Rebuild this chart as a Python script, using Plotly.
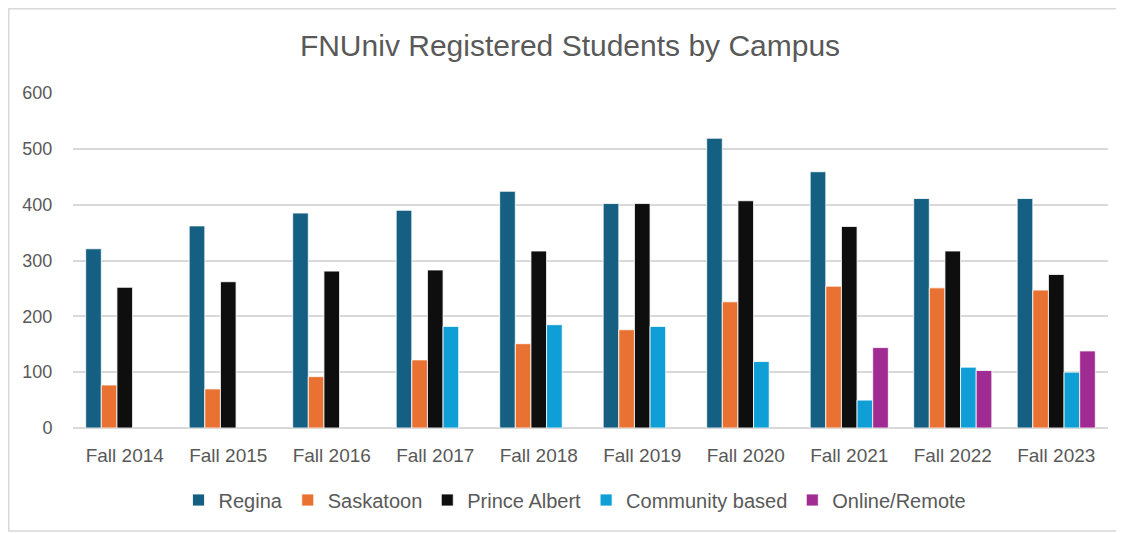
import plotly.graph_objects as go

categories = ["Fall 2014", "Fall 2015", "Fall 2016", "Fall 2017", "Fall 2018",
              "Fall 2019", "Fall 2020", "Fall 2021", "Fall 2022", "Fall 2023"]
regina = [321, 362, 385, 390, 424, 402, 519, 459, 411, 411]
saskatoon = [77, 70, 92, 122, 151, 176, 226, 254, 251, 247]
prince_albert = [252, 262, 281, 283, 317, 402, 407, 361, 317, 275]
community = [None, None, None, 182, 185, 182, 119, 50, 109, 100]
online = [None, None, None, None, None, None, None, 144, 103, 138]
y_ticks = [0, 100, 200, 300, 400, 500, 600]

series = [
    ("Regina", regina, "#156082"),
    ("Saskatoon", saskatoon, "#E97132"),
    ("Prince Albert", prince_albert, "#0E0E0E"),
    ("Community based", community, "#0F9ED5"),
    ("Online/Remote", online, "#A02B93"),
]

fig = go.Figure()
for name, vals, color in series:
    fig.add_trace(go.Bar(
        name=name, x=categories, y=vals,
        marker=dict(color=color, line=dict(color="rgba(255,255,255,0.8)", width=1)),
    ))

FONT = "Liberation Sans, Arial, sans-serif"
GREY = "#595959"

# page has an 8px body margin; figure coords = page coords - 8
W, H = 1116, 525
L, R, T, B = 65, 1100, 85, 420  # plot area in figure coords
PW, PH = R - L, B - T

fig.update_layout(
    width=W, height=H,
    margin=dict(l=L, r=W - R, t=T, b=H - B),
    paper_bgcolor="white", plot_bgcolor="white",
    barmode="group", bargap=0.245, bargroupgap=0,
    font=dict(family=FONT, color=GREY, size=18),
    title=dict(text="FNUniv Registered Students by Campus",
               x=(570 - 8) / W, xref="container", xanchor="center",
               y=1 - (45 - 8) / H, yref="container", yanchor="middle",
               font=dict(family=FONT, size=30, color=GREY)),
    xaxis=dict(showgrid=False, showline=False, zeroline=False,
               ticks="outside", ticklen=10, tickcolor="rgba(0,0,0,0)",
               tickfont=dict(size=19, color=GREY)),
    yaxis=dict(range=[0, 600], tickvals=y_ticks, showgrid=True,
               gridcolor="#D9D9D9", gridwidth=1.5,
               zeroline=True, zerolinecolor="#D9D9D9", zerolinewidth=1.5,
               showline=False, ticks="outside", ticklen=16,
               tickcolor="rgba(0,0,0,0)",
               tickfont=dict(size=18, color=GREY)),
    legend=dict(orientation="h", x=(575 - 8 - L) / PW, xanchor="center",
                y=(B - (500 - 8)) / PH, yanchor="middle",
                font=dict(size=20, color=GREY), itemwidth=30,
                traceorder="normal"),
    shapes=[dict(type="rect", xref="paper", yref="paper",
                 x0=(0.8 - L) / PW, x1=(1110 - L) / PW,
                 y0=(B - 523) / PH, y1=(B - 0.8) / PH,
                 line=dict(color="#D9D9D9", width=1.5), layer="below")],
)

fig.write_html("out.html")
